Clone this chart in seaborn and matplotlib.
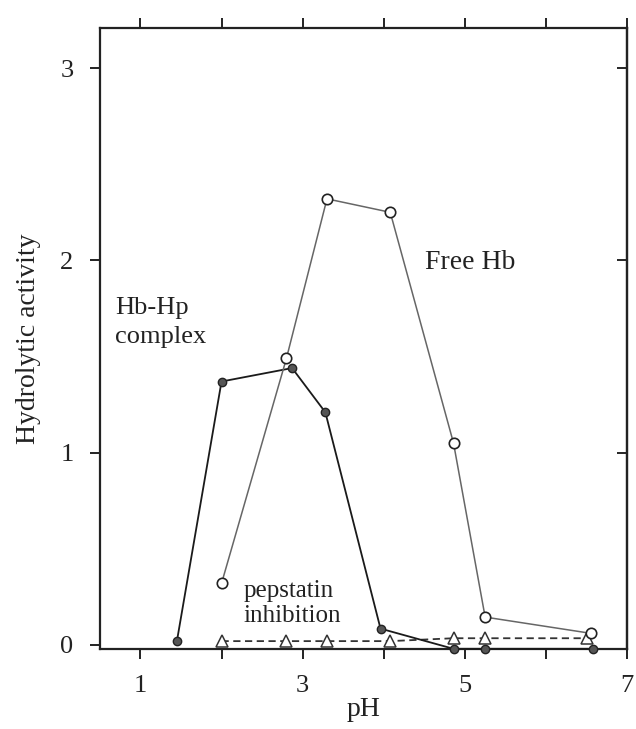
import numpy as np
import pandas as pd
import matplotlib
matplotlib.use('Agg')
import matplotlib.pyplot as plt
import seaborn as sns

# values
free_ph = [2.0, 2.8, 3.3, 4.08, 4.86, 5.25, 6.56]
free_act = [0.32, 1.49, 2.32, 2.25, 1.05, 0.145, 0.06]

complex_ph = [1.45, 2.0, 2.87, 3.28, 3.96, 4.86, 5.25, 6.58]
complex_act = [0.02, 1.37, 1.44, 1.21, 0.085, -0.02, -0.02, -0.02]

pep_ph = [2.0, 2.8, 3.3, 4.08, 4.86, 5.25, 6.5]
pep_act = [0.02, 0.02, 0.02, 0.02, 0.035, 0.035, 0.035]

x_ticks = [1, 2, 3, 4, 5, 6, 7]
x_ticklabels = ['1', '', '3', '', '5', '', '7']
y_ticks = [0, 1, 2, 3]

sns.set_style('ticks')
plt.rcParams['font.family'] = ['Liberation Serif', 'DejaVu Serif']
plt.rcParams['axes.linewidth'] = 1.6

fig = plt.figure(figsize=(6.36, 7.29), dpi=100)
ax = fig.add_axes([0.157, 0.110, 0.829, 0.852])

df_free = pd.DataFrame({'pH': free_ph, 'act': free_act})
df_complex = pd.DataFrame({'pH': complex_ph, 'act': complex_act})
df_pep = pd.DataFrame({'pH': pep_ph, 'act': pep_act})

# pepstatin inhibition (open triangles, dashed)
sns.lineplot(data=df_pep, x='pH', y='act', ax=ax, sort=False, color='#333333',
             linestyle=(0, (4, 2.5)), linewidth=1.3, marker='^', markersize=8,
             markerfacecolor='white', markeredgecolor='#333333', markeredgewidth=1.1,
             clip_on=False, zorder=3)
# Hb-Hp complex (filled circles)
sns.lineplot(data=df_complex, x='pH', y='act', ax=ax, sort=False, color='#1a1a1a',
             linewidth=1.3, marker='o', markersize=6, markerfacecolor='#555555',
             markeredgecolor='#222222', markeredgewidth=1.0, clip_on=False, zorder=4)
# Free Hb (open circles)
sns.lineplot(data=df_free, x='pH', y='act', ax=ax, sort=False, color='#666666',
             linewidth=1.1, marker='o', markersize=7.5, markerfacecolor='white',
             markeredgecolor='#222222', markeredgewidth=1.2, clip_on=False, zorder=5)

ax.set_xlim(0.5, 7.0)
ax.set_ylim(-0.02, 3.21)
ax.set_xticks(x_ticks)
ax.set_xticklabels(x_ticklabels)
ax.set_yticks(y_ticks)
ax.tick_params(axis='x', direction='out', length=7, width=1.4, top=True,
               labeltop=False, labelsize=19, pad=12, colors='#222222')
ax.tick_params(axis='y', direction='out', length=7, width=1.4, right=False,
               labelsize=19, pad=12, colors='#222222')

right = ax.secondary_yaxis('right')
right.set_yticks([1, 2, 3])
right.tick_params(direction='in', length=7, width=1.4, labelright=False)
right.spines['right'].set_linewidth(1.6)

for s in ax.spines.values():
    s.set_visible(True)
    s.set_color('#222222')

ax.set_xlabel('pH', fontsize=20, color='#222222', labelpad=0)
ax.set_ylabel('Hydrolytic activity', fontsize=20, color='#222222', labelpad=14)

ax.text(4.51, 1.99, 'Free Hb', fontsize=20, ha='left', va='center', color='#222222')
ax.text(0.69, 1.81, 'Hb-Hp\ncomplex', fontsize=19, ha='left', va='top',
        linespacing=1.4, color='#222222')
ax.text(2.27, 0.34, 'pepstatin\ninhibition', fontsize=18, ha='left', va='top',
        linespacing=1.2, color='#222222')

fig.savefig('out.png', dpi=100)
